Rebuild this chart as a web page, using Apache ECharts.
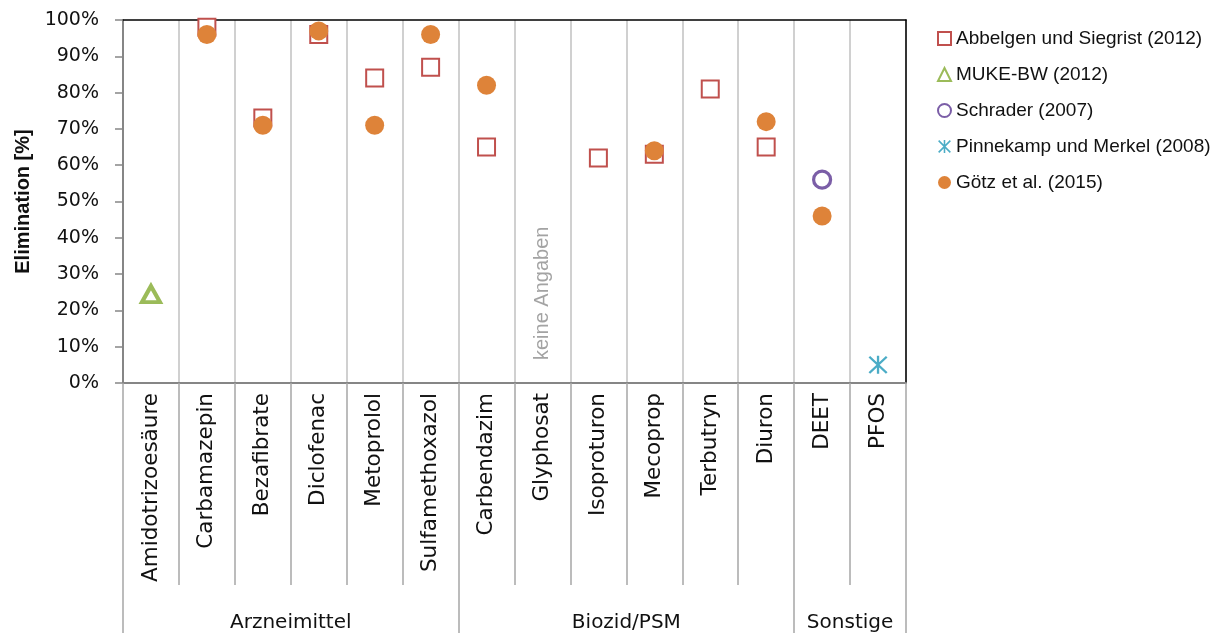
<!DOCTYPE html>
<html>
<head>
<meta charset="utf-8">
<script src="https://cdn.jsdelivr.net/npm/echarts@6/dist/echarts.min.js"></script>
<style>
html,body{margin:0;padding:0;background:#fff;}
#chart{width:1211px;height:633px;}
</style>
</head>
<body>
<div id="chart"></div>
<script>
// ---- data ----
const categories = ['Amidotrizoesäure','Carbamazepin','Bezafibrate','Diclofenac','Metoprolol','Sulfamethoxazol','Carbendazim','Glyphosat','Isoproturon','Mecoprop','Terbutryn','Diuron','DEET','PFOS'];
const groupNames = ['Arzneimittel','Biozid/PSM','Sonstige'];
const groupSizes = [6, 6, 2];
const abbelgen  = [null, 98, 73, 96, 84, 87, 65, null, 62, 63, 81, 65, null, null];
const muke      = [24.5, null, null, null, null, null, null, null, null, null, null, null, null, null];
const schrader  = [null, null, null, null, null, null, null, null, null, null, null, null, 56, null];
const pinnekamp = [null, null, null, null, null, null, null, null, null, null, null, null, null, 5];
const goetz     = [null, 96, 71, 97, 71, 96, 82, null, null, 64, null, 72, 46, null];
const noDataCategory = 'Glyphosat';
const noDataText = 'keine Angaben';
const noDataLevel = 24.7;
const yTicks = [0,10,20,30,40,50,60,70,80,90,100];

function pairs(arr){ return arr.map((v,i)=> v==null ? null : [i, v]).filter(Boolean); }

// group boundaries and centers
const groupBounds = [0];
groupSizes.forEach(s => groupBounds.push(groupBounds[groupBounds.length-1] + s));
const groupCenters = groupSizes.map((s,i) => groupBounds[i] + s/2);

const asterisk = 'path://M44,0 L56,0 L56,100 L44,100 Z M0.76,9.24 L9.24,0.76 L99.24,90.76 L90.76,99.24 Z M90.76,0.76 L99.24,9.24 L9.24,99.24 L0.76,90.76 Z';

const chart = echarts.init(document.getElementById('chart'), null, {renderer:'canvas'});
const axisFont = 'DejaVu Sans';
const option = {
  animation: false,
  backgroundColor: '#fff',
  grid: { left: 123, right: 305, top: 20, bottom: 250, containLabel: false, outerBoundsMode: 'none' },
  legend: {
    orient: 'vertical', left: 932, top: 24,
    itemWidth: 13, itemHeight: 13, itemGap: 17,
    textStyle: { fontFamily: 'Liberation Sans', fontSize: 19, color: '#111' },
    data: ['Abbelgen und Siegrist (2012)','MUKE-BW (2012)','Schrader (2007)','Pinnekamp und Merkel (2008)','Götz et al. (2015)']
  },
  xAxis: [
    {
      type: 'category', data: categories, position: 'bottom', boundaryGap: true,
      axisLine: { show: true, onZero: false, lineStyle: { color: '#868686', width: 2 } },
      axisTick: { show: true, alignWithLabel: false, interval: 0, length: 202, lineStyle: { color: '#A6A6A6', width: 1.5 } },
      axisLabel: { interval: 0, rotate: 90, margin: 10, fontFamily: axisFont, fontSize: 21.5, color: '#111' },
      splitLine: { show: true, interval: 0, lineStyle: { color: '#C0C0C0', width: 1.5 } }
    },
    {
      type: 'value', min: 0, max: categories.length, position: 'bottom', offset: 202,
      axisLine: { show: true, onZero: false, lineStyle: { color: 'rgba(0,0,0,0)', width: 0.1 } },
      axisTick: { show: true, inside: false, customValues: groupBounds, length: 48, lineStyle: { color: '#A6A6A6', width: 1.5 } },
      axisLabel: { show: true, customValues: groupCenters, margin: 28, fontFamily: axisFont, fontSize: 20, color: '#111',
        formatter: v => { const i = groupCenters.indexOf(v); return i >= 0 ? groupNames[i] : ''; } },
      splitLine: { show: false }
    },
    {
      type: 'category', data: categories, position: 'top',
      axisLine: { show: true, onZero: false, lineStyle: { color: '#000', width: 1.5 } },
      axisTick: { show: false }, axisLabel: { show: false }, splitLine: { show: false }
    }
  ],
  yAxis: [
    {
      type: 'value', min: 0, max: 100, interval: 10,
      name: 'Elimination [%]', nameLocation: 'middle', nameRotate: 90, nameGap: 90,
      nameTextStyle: { fontFamily: 'Liberation Sans', fontWeight: 'bold', fontSize: 20, color: '#111' },
      axisLine: { show: true, onZero: false, lineStyle: { color: '#868686', width: 2 } },
      axisTick: { show: true, length: 8, lineStyle: { color: '#868686', width: 1.5 } },
      axisLabel: { margin: 24, fontFamily: axisFont, fontSize: 19, color: '#111', formatter: '{value}%',
        customValues: yTicks },
      splitLine: { show: false }
    },
    {
      type: 'value', min: 0, max: 100, interval: 10, position: 'right',
      axisLine: { show: true, onZero: false, lineStyle: { color: '#000', width: 1.5 } },
      axisTick: { show: false }, axisLabel: { show: false }, splitLine: { show: false }
    }
  ],
  series: [
    { name: 'Abbelgen und Siegrist (2012)', type: 'scatter', symbol: 'rect', symbolSize: 17,
      itemStyle: { color: '#fff', borderColor: '#C0504D', borderWidth: 2, opacity: 1 },
      data: pairs(abbelgen) },
    { name: 'MUKE-BW (2012)', type: 'scatter', symbol: 'triangle', symbolSize: [18, 16],
      itemStyle: { color: '#fff', borderColor: '#9BBB59', borderWidth: 4, opacity: 1 },
      data: pairs(muke) },
    { name: 'Schrader (2007)', type: 'scatter', symbol: 'circle', symbolSize: 17,
      itemStyle: { color: '#fff', borderColor: '#7B5EA7', borderWidth: 3.2, opacity: 1 },
      data: pairs(schrader) },
    { name: 'Pinnekamp und Merkel (2008)', type: 'scatter', symbol: asterisk, symbolSize: [19, 18],
      itemStyle: { color: '#4BACC6', opacity: 1 },
      data: pairs(pinnekamp) },
    { name: 'Götz et al. (2015)', type: 'scatter', symbol: 'circle', symbolSize: 19,
      itemStyle: { color: '#DE8339', opacity: 1 },
      data: pairs(goetz) },
    { name: 'noData', type: 'scatter', symbol: 'circle', symbolSize: 1, silent: true,
      itemStyle: { color: 'rgba(0,0,0,0)' },
      label: { show: true, position: 'inside', rotate: 90, formatter: noDataText,
        fontFamily: 'Liberation Sans', fontSize: 20, color: '#8C8C8C' },
      data: [[categories.indexOf(noDataCategory), noDataLevel]] }
  ]
};
chart.setOption(option);
</script>
</body>
</html>
